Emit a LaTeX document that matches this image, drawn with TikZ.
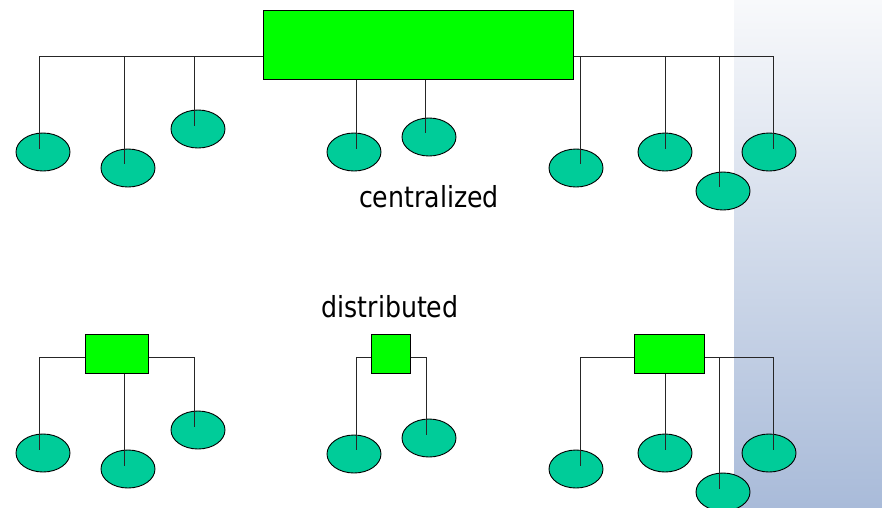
\documentclass[tikz,border=0pt]{standalone}
\usepackage{fontspec}
\setmainfont{DejaVu Sans}
\usetikzlibrary{shapes.geometric}
\definecolor{hubgreen}{RGB}{0,255,0}
\definecolor{nodeteal}{RGB}{0,204,153}
\definecolor{paneltop}{RGB}{248,249,251}
\definecolor{panelbot}{RGB}{169,187,217}
\tikzset{
  hub/.style={draw=black, line width=1pt, fill=hubgreen, inner sep=0pt},
  leaf/.style={ellipse, draw=black, line width=0.9pt, fill=nodeteal, inner sep=0pt, minimum width=54pt, minimum height=38pt},
  wire/.style={draw=black!85, line width=1pt},
  caption/.style={anchor=base, inner sep=0pt, font=\fontsize{29}{34}\selectfont}
}
\begin{document}
\begin{tikzpicture}[x=1pt,y=-1pt]
\useasboundingbox (0,0) rectangle (882,507);
% background panel
\shade[top color=paneltop, bottom color=panelbot] (734,0) rectangle (882,507);

% ---------- centralized ----------
\node[hub, minimum width=310pt, minimum height=69pt] (C) at (418,44.5) {};
\node[leaf] (e1) at (43,152) {};
\node[leaf] (e2) at (128,168) {};
\node[leaf] (e3) at (198,129) {};
\node[leaf] (e4) at (354,152) {};
\node[leaf] (e5) at (429,137) {};
\node[leaf] (e6) at (576,168) {};
\node[leaf] (e7) at (665,152) {};
\node[leaf] (e8) at (723,191) {};
\node[leaf] (e9) at (769,152) {};
\coordinate (a1) at (39,149);
\coordinate (a2) at (124,164);
\coordinate (a3) at (194,126);
\coordinate (a4) at (356,149);
\coordinate (a5) at (425,133);
\coordinate (a6) at (580,164);
\coordinate (a7) at (665,149);
\coordinate (a8) at (719,187);
\coordinate (a9) at (773,149);
\coordinate (cl) at (39,56);
\coordinate (cr) at (773,56);
\draw[wire] (C.west |- cl) -- (cl) -- (a1);
\draw[wire] (a2 |- cl) -- (a2);
\draw[wire] (a3 |- cl) -- (a3);
\draw[wire] (a4 |- C.south) -- (a4);
\draw[wire] (a5 |- C.south) -- (a5);
\draw[wire] (C.east |- cr) -- (cr) -- (a9);
\draw[wire] (a6 |- cr) -- (a6);
\draw[wire] (a7 |- cr) -- (a7);
\draw[wire] (a8 |- cr) -- (a8);
\node[caption] (tc) at (429,207) {\scalebox{0.87}[1]{centralized}};

% ---------- distributed ----------
\node[caption] (td) at (390,317) {\scalebox{0.87}[1]{distributed}};
\node[hub, minimum width=63pt, minimum height=39pt] (L) at (116.5,353.5) {};
\node[hub, minimum width=39pt, minimum height=39pt] (M) at (390.5,353.5) {};
\node[hub, minimum width=70pt, minimum height=39pt] (R) at (669,353.5) {};
\node[leaf] (f1) at (43,453) {};
\node[leaf] (f2) at (128,469) {};
\node[leaf] (f3) at (198,430) {};
\node[leaf] (g1) at (354,454) {};
\node[leaf] (g2) at (429,438) {};
\node[leaf] (h1) at (576,469) {};
\node[leaf] (h2) at (665,453) {};
\node[leaf] (h3) at (723,492) {};
\node[leaf] (h4) at (769,453) {};
\coordinate (b1) at (39,450);
\coordinate (b2) at (124,466);
\coordinate (b3) at (194,427);
\coordinate (c1) at (356,450);
\coordinate (c2) at (426,435);
\coordinate (d1) at (580,466);
\coordinate (d2) at (665,450);
\coordinate (d3) at (719,489);
\coordinate (d4) at (773,450);
\coordinate (ll) at (39,357);
\coordinate (lr) at (194,357);
\coordinate (ml) at (356,357);
\coordinate (mr) at (426,357);
\coordinate (rl) at (580,357);
\coordinate (rr) at (773,357);
\draw[wire] (L.west |- ll) -- (ll) -- (b1);
\draw[wire] (L.east |- lr) -- (lr) -- (b3);
\draw[wire] (b2 |- L.south) -- (b2);
\draw[wire] (M.west |- ml) -- (ml) -- (c1);
\draw[wire] (M.east |- mr) -- (mr) -- (c2);
\draw[wire] (R.west |- rl) -- (rl) -- (d1);
\draw[wire] (R.east |- rr) -- (rr) -- (d4);
\draw[wire] (d2 |- R.south) -- (d2);
\draw[wire] (d3 |- rr) -- (d3);
\end{tikzpicture}
\end{document}
